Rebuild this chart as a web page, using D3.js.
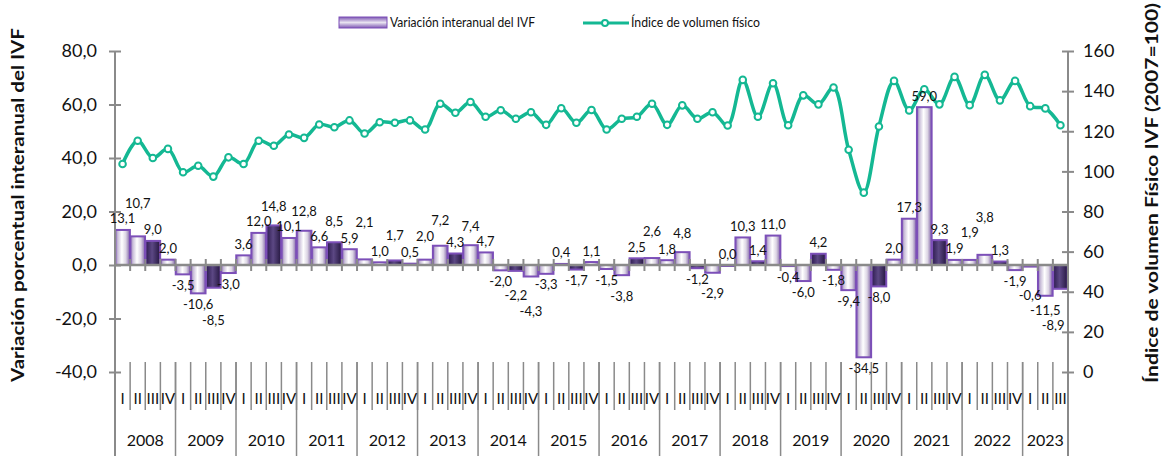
<!DOCTYPE html>
<html>
<head>
<meta charset="utf-8">
<script src="https://cdn.jsdelivr.net/npm/d3@7"></script>
<style>
  html, body { margin: 0; padding: 0; background: #fff; }
  svg { display: block; font-family: Lato, "Open Sans", sans-serif; }
</style>
</head>
<body>
<svg id="chart" width="1166" height="456"></svg>
<script>
// ---------------- DATA ----------------
const yearLabels = ["2008","2009","2010","2011","2012","2013","2014","2015","2016","2017","2018","2019","2020","2021","2022","2023"];
const quarterLabels = ["I","II","III","IV"];
const quartersPerYear = [4,4,4,4,4,4,4,4,4,4,4,4,4,4,4,3];

// Variación interanual del IVF (%)
const variacion = [
  13.1, 10.7, 9.0, 2.0,
  -3.5, -10.6, -8.5, -3.0,
  3.6, 12.0, 14.8, 10.1,
  12.8, 6.6, 8.5, 5.9,
  2.1, 1.0, 1.7, 0.5,
  2.0, 7.2, 4.3, 7.4,
  4.7, -2.0, -2.2, -4.3,
  -3.3, 0.4, -1.7, 1.1,
  -1.5, -3.8, 2.5, 2.6,
  1.8, 4.8, -1.2, -2.9,
  0.0, 10.3, 1.4, 11.0,
  -0.4, -6.0, 4.2, -1.8,
  -9.4, -34.5, -8.0, 2.0,
  17.3, 59.0, 9.3, 1.9,
  1.9, 3.8, 1.3, -1.9,
  -0.6, -11.5, -8.9
];

// Índice de volumen físico (2007=100)
const ivf = [
  103.7, 115.3, 106.7, 111.2,
  99.6, 102.8, 97.4, 107.0,
  103.7, 115.3, 112.8, 118.4,
  116.7, 123.4, 122.0, 125.4,
  118.9, 124.5, 124.2, 125.4,
  120.9, 133.7, 129.2, 134.6,
  127.2, 130.5, 126.2, 129.5,
  123.2, 131.5, 124.2, 130.6,
  120.9, 126.2, 127.2, 133.7,
  123.2, 132.9, 126.2, 129.5,
  122.9, 145.6, 127.2, 143.9,
  123.0, 137.9, 133.4, 141.8,
  110.8, 89.4, 122.4, 145.1,
  130.4, 140.9, 133.4, 147.1,
  133.0, 148.1, 135.4, 145.1,
  132.5, 131.4, 123.0
];

const leftTicks = [-40, -20, 0, 20, 40, 60, 80];
const rightTicks = [0, 20, 40, 60, 80, 100, 120, 140, 160];

const legendLabels = ["Variación interanual del IVF", "Índice de volumen físico"];
const leftTitle = "Variación porcentual interanual del IVF";
const rightTitle = "Índice de volumen Físico IVF (2007=100)";

// categories built from years / quarters
const categories = [];
yearLabels.forEach((y, yi) => {
  for (let q = 0; q < quartersPerYear[yi]; q++) categories.push({year: y, q: quarterLabels[q], qi: q});
});

// ---------------- LAYOUT ----------------
const svg = d3.select("#chart");
const plotLeft = 115, plotRight = 1068, plotTop = 51, plotBottom = 372;
const axisGray = "#8a8a8a";
const teal = "#14b893";

const x = d3.scaleBand().domain(d3.range(categories.length)).range([plotLeft, plotRight]).paddingInner(0.03).paddingOuter(0.015);
const step = (plotRight - plotLeft) / categories.length;
const yL = d3.scaleLinear().domain([-40, 80]).range([plotBottom, plotTop]);
const yR = d3.scaleLinear().domain([0, 160]).range([plotBottom, plotTop]);

// gradients
const defs = svg.append("defs");
const gLight = defs.append("linearGradient").attr("id", "gLight").attr("x1", "0%").attr("x2", "100%").attr("y1", "0%").attr("y2", "0%");
[["0%", "#8e70b4"], ["18%", "#cbc0da"], ["45%", "#ffffff"], ["72%", "#dcd5e4"], ["100%", "#8064a6"]]
  .forEach(([o, c]) => gLight.append("stop").attr("offset", o).attr("stop-color", c));
const gDark = defs.append("linearGradient").attr("id", "gDark").attr("x1", "0%").attr("x2", "100%").attr("y1", "0%").attr("y2", "0%");
[["0%", "#2c1a4e"], ["45%", "#5c4884"], ["100%", "#24163f"]]
  .forEach(([o, c]) => gDark.append("stop").attr("offset", o).attr("stop-color", c));
const gLeg = defs.append("linearGradient").attr("id", "gLeg").attr("x1", "0%").attr("x2", "0%").attr("y1", "0%").attr("y2", "100%");
[["0%", "#7d57b3"], ["50%", "#e8e2f0"], ["100%", "#7d57b3"]]
  .forEach(([o, c]) => gLeg.append("stop").attr("offset", o).attr("stop-color", c));

// ---------------- BARS ----------------
svg.append("g").selectAll("rect").data(variacion).join("rect")
  .attr("x", (d, i) => x(i))
  .attr("width", x.bandwidth())
  .attr("y", d => yL(Math.max(0, d)))
  .attr("height", d => Math.max(1, Math.abs(yL(d) - yL(0))))
  .attr("fill", (d, i) => categories[i].qi === 2 ? "url(#gDark)" : "url(#gLight)")
  .attr("stroke", "#7c4fb8")
  .attr("stroke-width", 2);

// ---------------- X AXIS (at zero) ----------------
const xAxisG = svg.append("g");
xAxisG.append("line").attr("x1", plotLeft).attr("x2", plotRight).attr("y1", yL(0)).attr("y2", yL(0))
  .attr("stroke", axisGray).attr("stroke-width", 2.5);
xAxisG.selectAll("line.tk").data(d3.range(categories.length + 1)).join("line").attr("class", "tk")
  .attr("x1", i => plotLeft + i * step).attr("x2", i => plotLeft + i * step)
  .attr("y1", yL(0) - 6).attr("y2", yL(0) + 6)
  .attr("stroke", axisGray).attr("stroke-width", 2);

// multi-level category labels at bottom
const catTop = 362, qRowBottom = 410, bottom = 456;
const bottomG = svg.append("g");
bottomG.selectAll("line.q").data(d3.range(categories.length + 1)).join("line").attr("class", "q")
  .attr("x1", i => plotLeft + i * step).attr("x2", i => plotLeft + i * step)
  .attr("y1", catTop).attr("y2", qRowBottom)
  .attr("stroke", axisGray).attr("stroke-width", 1.5);
const yearStarts = [];
{ let s = 0; quartersPerYear.forEach(n => { yearStarts.push(s); s += n; }); yearStarts.push(s); }
bottomG.selectAll("line.y").data(yearStarts).join("line").attr("class", "y")
  .attr("x1", i => plotLeft + i * step).attr("x2", i => plotLeft + i * step)
  .attr("y1", catTop).attr("y2", bottom)
  .attr("stroke", axisGray).attr("stroke-width", 1.5);
bottomG.selectAll("text.q").data(categories).join("text").attr("class", "q")
  .attr("x", (d, i) => x(i) + x.bandwidth() / 2)
  .attr("y", 404)
  .attr("text-anchor", "middle")
  .attr("font-size", 15).attr("fill", "#111")
  .text(d => d.q);
bottomG.selectAll("text.yr").data(yearLabels).join("text").attr("class", "yr")
  .attr("x", (d, i) => plotLeft + (yearStarts[i] + quartersPerYear[i] / 2) * step)
  .attr("y", 446)
  .attr("text-anchor", "middle")
  .attr("font-size", 16).attr("fill", "#111")
  .text(d => d);

// ---------------- LEFT AXIS ----------------
const fmt = d => d.toFixed(1).replace(".", ",");
const leftAxis = svg.append("g").attr("transform", `translate(${plotLeft},0)`)
  .call(d3.axisLeft(yL).tickValues(leftTicks).tickFormat(fmt).tickSize(6).tickPadding(12));
leftAxis.select(".domain").remove();
leftAxis.selectAll(".tick line").attr("x1", 6).attr("stroke", axisGray).attr("stroke-width", 2);
leftAxis.selectAll(".tick text").attr("font-size", 18).attr("fill", "#111").attr("font-family", "Lato, sans-serif");
svg.append("line").attr("x1", plotLeft).attr("x2", plotLeft).attr("y1", plotTop).attr("y2", bottom)
  .attr("stroke", axisGray).attr("stroke-width", 2);

// ---------------- RIGHT AXIS ----------------
const rightAxis = svg.append("g").attr("transform", `translate(${plotRight},0)`)
  .call(d3.axisRight(yR).tickValues(rightTicks).tickFormat(d3.format("d")).tickSize(6).tickPadding(9));
rightAxis.select(".domain").remove();
rightAxis.selectAll(".tick line").attr("x1", -6).attr("stroke", axisGray).attr("stroke-width", 2);
rightAxis.selectAll(".tick text").attr("font-size", 18).attr("fill", "#111").attr("font-family", "Lato, sans-serif");
svg.append("line").attr("x1", plotRight).attr("x2", plotRight).attr("y1", plotTop).attr("y2", bottom)
  .attr("stroke", axisGray).attr("stroke-width", 2);

// ---------------- LINE ----------------
const line = d3.line().x((d, i) => x(i) + x.bandwidth() / 2).y(d => yR(d)).curve(d3.curveCatmullRom.alpha(0.5));
svg.append("path").datum(ivf).attr("d", line).attr("fill", "none").attr("stroke", teal).attr("stroke-width", 3.5);
svg.append("g").selectAll("circle").data(ivf).join("circle")
  .attr("cx", (d, i) => x(i) + x.bandwidth() / 2).attr("cy", d => yR(d)).attr("r", 3.3)
  .attr("fill", "#fff").attr("stroke", teal).attr("stroke-width", 2);

// ---------------- DATA LABELS (with simple collision avoidance) ----------------
const labelG = svg.append("g");
const labels = labelG.selectAll("text").data(variacion).join("text")
  .attr("text-anchor", "middle")
  .attr("font-size", 13).attr("fill", "#111")
  .text(d => fmt(d));
const placed = [];
const lh = 14.5; // label box height incl. spacing
labels.each(function(d, i) {
  const w = this.getComputedTextLength() + 1;
  const cx = Math.min(x(i) + x.bandwidth() / 2, plotRight - w / 2 - 3);
  const dir = d >= 0 ? -1 : 1;
  let cy = d >= 0 ? yL(d) - 11 : yL(d) + 11;
  const overlaps = c => placed.some(p => Math.abs(p.cx - cx) < (p.w + w) / 2 && Math.abs(p.cy - c) < lh);
  let guard = 0;
  while (overlaps(cy) && guard++ < 60) cy += dir * 2;
  placed.push({cx, cy, w});
  d3.select(this).attr("x", cx).attr("y", cy + 4.5);
});

// ---------------- TITLES ----------------
svg.append("text").attr("transform", "translate(24,205) rotate(-90)")
  .attr("text-anchor", "middle").attr("font-weight", "bold").attr("font-size", 16.5).attr("fill", "#111")
  .attr("textLength", 354).attr("lengthAdjust", "spacingAndGlyphs")
  .text(leftTitle);
svg.append("text").attr("transform", "translate(1158,193) rotate(-90)")
  .attr("text-anchor", "middle").attr("font-weight", "bold").attr("font-size", 16.5).attr("fill", "#111")
  .attr("textLength", 380).attr("lengthAdjust", "spacingAndGlyphs")
  .text(rightTitle);

// ---------------- LEGEND ----------------
const leg = svg.append("g");
leg.append("rect").attr("x", 339).attr("y", 17).attr("width", 48).attr("height", 11)
  .attr("fill", "url(#gLeg)").attr("stroke", "#7c4fb8").attr("stroke-width", 1);
leg.append("text").attr("x", 390).attr("y", 27).attr("font-size", 12.5).attr("fill", "#111")
  .attr("textLength", 145).attr("lengthAdjust", "spacingAndGlyphs").text(legendLabels[0]);
leg.append("line").attr("x1", 583).attr("x2", 629).attr("y1", 23).attr("y2", 23).attr("stroke", teal).attr("stroke-width", 3);
leg.append("circle").attr("cx", 605).attr("cy", 23).attr("r", 3).attr("fill", "#fff").attr("stroke", teal).attr("stroke-width", 2);
leg.append("text").attr("x", 631).attr("y", 27).attr("font-size", 12.5).attr("fill", "#111")
  .attr("textLength", 129).attr("lengthAdjust", "spacingAndGlyphs").text(legendLabels[1]);
</script>
</body>
</html>
